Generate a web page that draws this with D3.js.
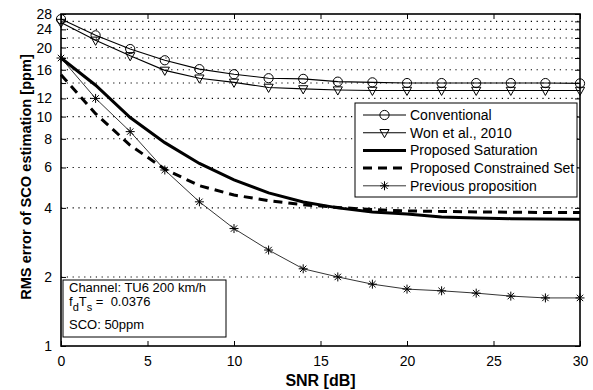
<!DOCTYPE html>
<html>
<head>
    <style>
        body { margin: 0; background: #fff; }
        svg { font-family: "Liberation Sans", Arial, sans-serif; }
        .tick text { font-size: 14px; fill: #000; }
        .lbl { font-weight: bold; font-size: 16px; }
        .leg text { font-size: 14px; }
        .info text { font-size: 13px; white-space: pre; }
    </style>
    <script src="https://d3js.org/d3.v7.min.js"></script>
</head>
<body>
    <svg width="593" height="390"></svg>
    <script>
        // data
        var snr = [0, 2, 4, 6, 8, 10, 12, 14, 16, 18, 20, 22, 24, 26, 28, 30];
        var conventional = [26.6, 22.6, 19.7, 17.6, 16.1, 15.3, 14.7, 14.6, 14.2, 14.1, 14.0, 14.0, 14.0, 14.0, 14.0, 13.95];
        var won2010 = [25.7, 21.5, 18.4, 15.9, 14.7, 14.1, 13.4, 13.2, 13.05, 13.0, 13.0, 13.0, 13.0, 13.0, 13.0, 13.0];
        var saturation = [18.0, 13.7, 9.9, 7.7, 6.25, 5.3, 4.65, 4.24, 4.0, 3.84, 3.76, 3.65, 3.61, 3.59, 3.58, 3.57];
        var constrained = [15.2, 10.3, 7.5, 5.9, 5.0, 4.55, 4.3, 4.13, 4.02, 3.93, 3.88, 3.86, 3.84, 3.83, 3.82, 3.82];
        var previous = [18.0, 12.0, 8.6, 5.85, 4.25, 3.25, 2.62, 2.17, 2.0, 1.86, 1.77, 1.74, 1.70, 1.65, 1.62, 1.62];

        var xTicks = [0, 5, 10, 15, 20, 25, 30];
        var yTicks = [1, 2, 4, 6, 8, 10, 12, 14, 16, 18, 20, 22, 24, 26, 28];
        var yLabelled = [1, 2, 4, 6, 8, 10, 12, 16, 20, 24, 28];
        var legendNames = ["Conventional", "Won et al., 2010", "Proposed Saturation", "Proposed Constrained Set", "Previous proposition"];

        var svg = d3.select("svg"),
            margin = {left: 61, top: 14, right: 13, bottom: 44},
            width = 593 - margin.left - margin.right,
            height = 390 - margin.top - margin.bottom;

        var g = svg.append("g").attr("transform", "translate(" + margin.left + "," + margin.top + ")");

        var x = d3.scaleLinear().domain([0, 30]).range([0, width]);
        var y = d3.scaleLog().domain([1, 28]).range([height, 0]);

        // dotted grid
        g.selectAll(".grid").data(yTicks.filter(function(d){ return d > 1 && d < 28; }))
            .enter().append("line")
            .attr("x1", 0).attr("x2", width)
            .attr("y1", function(d){ return y(d); }).attr("y2", function(d){ return y(d); })
            .attr("stroke", "#000").attr("stroke-width", 1.1)
            .attr("stroke-dasharray", "1.2,4.6");

        // axes (ticks inside)
        var fmtY = function(d){ return yLabelled.indexOf(d) >= 0 ? d : ""; };
        g.append("g").attr("transform", "translate(0," + height + ")")
            .call(d3.axisBottom(x).tickValues(xTicks).tickSizeInner(-5).tickSizeOuter(0).tickPadding(10));
        g.append("g")
            .call(d3.axisTop(x).tickValues(xTicks).tickSizeInner(-5).tickSizeOuter(0).tickFormat(""));
        g.append("g")
            .call(d3.axisLeft(y).tickValues(yTicks).tickSizeInner(-5).tickSizeOuter(0).tickPadding(9).tickFormat(fmtY));
        g.append("g").attr("transform", "translate(" + width + ",0)")
            .call(d3.axisRight(y).tickValues(yTicks).tickSizeInner(-5).tickSizeOuter(0).tickFormat(""));
        g.selectAll(".domain").remove();
        g.selectAll(".tick line").attr("stroke-width", 1);

        g.append("rect").attr("width", width).attr("height", height)
            .attr("fill", "none").attr("stroke", "#000").attr("stroke-width", 1.6);

        var series = [
            {name: legendNames[0], vals: conventional, w: 1.1, dash: null, mark: "circle"},
            {name: legendNames[1], vals: won2010, w: 1.1, dash: null, mark: "tri"},
            {name: legendNames[2], vals: saturation, w: 3, dash: null, mark: null},
            {name: legendNames[3], vals: constrained, w: 3, dash: "9,6", mark: null},
            {name: legendNames[4], vals: previous, w: 0.8, dash: null, mark: "star"}
        ];

        var line = d3.line().x(function(d){ return x(d[0]); }).y(function(d){ return y(d[1]); });

        function drawMarker(sel, type) {
            if (type === "circle") {
                sel.append("circle").attr("r", 4.6).attr("fill", "none").attr("stroke", "#000").attr("stroke-width", 1);
            } else if (type === "tri") {
                sel.append("path").attr("d", "M-4.6,-3.2L4.6,-3.2L0,5Z").attr("fill", "none").attr("stroke", "#000").attr("stroke-width", 1);
            } else if (type === "star") {
                sel.append("path").attr("d", "M-4.5,0L4.5,0M0,-4.5L0,4.5M-3.2,-3.2L3.2,3.2M-3.2,3.2L3.2,-3.2")
                    .attr("stroke", "#000").attr("stroke-width", 1);
            }
        }

        var plot = g.append("g");
        series.forEach(function(s) {
            var pts = snr.map(function(v, i){ return [v, s.vals[i]]; });
            plot.append("path").datum(pts).attr("d", line)
                .attr("fill", "none").attr("stroke", "#000").attr("stroke-width", s.w)
                .attr("stroke-dasharray", s.dash);
            if (s.mark) {
                plot.selectAll(null).data(pts).enter().append("g")
                    .attr("transform", function(d){ return "translate(" + x(d[0]) + "," + y(d[1]) + ")"; })
                    .each(function(){ drawMarker(d3.select(this), s.mark); });
            }
        });

        // legend
        var leg = svg.append("g").attr("class", "leg");
        leg.append("rect").attr("x", 355).attr("y", 103).attr("width", 222).attr("height", 94)
            .attr("fill", "#fff").attr("stroke", "#000").attr("stroke-width", 1);
        series.forEach(function(s, i) {
            var ly = 115 + i * 17.7;
            leg.append("line").attr("x1", 363).attr("x2", 406).attr("y1", ly).attr("y2", ly)
                .attr("stroke", "#000").attr("stroke-width", s.w).attr("stroke-dasharray", s.dash);
            if (s.mark) drawMarker(leg.append("g").attr("transform", "translate(384.5," + ly + ")"), s.mark);
            leg.append("text").attr("x", 410).attr("y", ly + 5).text(s.name);
        });

        // info box
        var info = svg.append("g").attr("class", "info");
        info.append("rect").attr("x", 63).attr("y", 280).attr("width", 163).attr("height", 57)
            .attr("fill", "#fff").attr("stroke", "#000").attr("stroke-width", 1);
        info.append("text").attr("x", 69).attr("y", 292).text("Channel: TU6 200 km/h");
        var t2 = info.append("text").attr("x", 69).attr("y", 306);
        t2.append("tspan").text("f");
        t2.append("tspan").attr("dy", 5).attr("font-size", "11px").text("d");
        t2.append("tspan").attr("dy", -5).text("T");
        t2.append("tspan").attr("dy", 5).attr("font-size", "11px").text("s");
        t2.append("tspan").attr("dy", -5).text(" =  0.0376");
        info.append("text").attr("x", 69).attr("y", 329).text("SCO: 50ppm");

        // axis labels
        svg.append("text").attr("class", "lbl").attr("text-anchor", "middle")
            .attr("x", margin.left + width / 2).attr("y", 386).text("SNR [dB]");
        svg.append("text").attr("class", "lbl").attr("text-anchor", "middle")
            .style("font-size", "14.6px")
            .attr("transform", "translate(31," + (margin.top + height / 2 - 3) + ") rotate(-90)")
            .text("RMS error of SCO estimation [ppm]");
    </script>
</body>
</html>
